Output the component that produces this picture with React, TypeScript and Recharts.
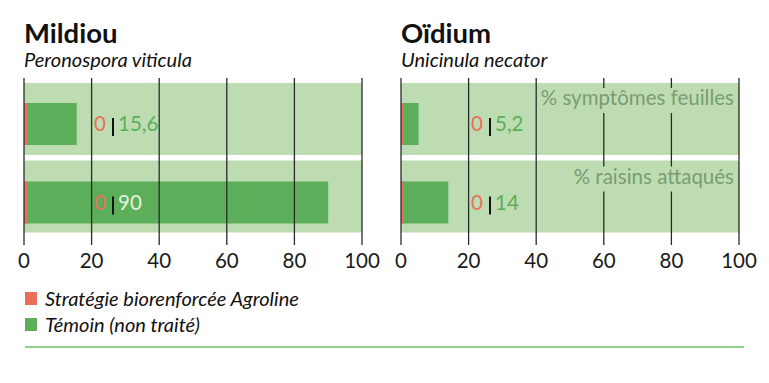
import { BarChart, Bar, XAxis, YAxis, ReferenceLine, LabelList } from 'recharts'

const categories = ['% symptômes feuilles', '% raisins attaqués']
const mildiouAgroline = [0, 0]
const mildiouTemoin = [15.6, 90]
const oidiumAgroline = [0, 0]
const oidiumTemoin = [5.2, 14]
const scaleMax = [100, 100]
const ticks = [0, 20, 40, 60, 80, 100]

const RED = '#e8705b'
const GREEN = '#5cae5a'
const PALE = '#bedcb2'
const LIGHT_TEXT = '#e4f2de'
const CAT_TEXT = '#799d74'
const FONT = 'Lato, "Open Sans", sans-serif'

const W = 373
const H = 205
const M = { top: 8, right: 19, bottom: 0, left: 16 }
const PLOT_W = W - M.left - M.right

const fmt = (v: number) => String(v).replace('.', ',')

function Panel({ title, species, agroline, temoin, showCategories, left }: any) {
  const data = categories.map((cat, i) => ({
    cat,
    agroline: agroline[i],
    temoin: temoin[i],
    max: scaleMax[i],
  }))

  // "0 | 15,6" value pair, plus the category caption on the right panel
  const renderLabels = (props: any) => {
    const vb = props.viewBox ?? props
    const { x, y, height } = vb
    const i = props.index
    const cy = y + height / 2
    const base = cy + 7
    const t = temoin[i]
    const cat = categories[i]
    const catW = cat.length * 9.6
    const right = x + PLOT_W
    return (
      <g>
        <text x={x + 70} y={base} fill={RED} fontSize={20.5} fontFamily={FONT}>{fmt(agroline[i])}</text>
        <rect x={x + 88} y={cy - 6} width={2} height={18} fill="#111" />
        <text x={x + 94} y={base} fill={t >= 30 ? LIGHT_TEXT : GREEN} fontSize={20.5} fontFamily={FONT}>{fmt(t)}</text>
        {showCategories && (
          <g>
            <rect x={right - catW - 8} y={y - 15} width={catW + 5} height={25} fill={PALE} />
            <text x={right - 5} y={y + 2} textAnchor="end" fill={CAT_TEXT} fontSize={20.5} fontFamily={FONT}>{cat}</text>
          </g>
        )}
      </g>
    )
  }

  return (
    <div style={{ position: 'absolute', left, top: 0, width: W, height: 270 }}>
      <div style={{ position: 'absolute', left: 16, top: 12, fontSize: 27.5, lineHeight: '26px', fontWeight: 700, color: '#111' }}>{title}</div>
      <div style={{ position: 'absolute', left: 16, top: 41, fontSize: 20, lineHeight: '20px', fontStyle: 'italic', color: '#111', whiteSpace: 'nowrap' }}>{species}</div>
      <div style={{ position: 'absolute', left: 0, top: 62 }}>
        <BarChart layout="vertical" width={W} height={H} data={data} margin={M}>
          <XAxis
            type="number"
            domain={[0, 100]}
            ticks={ticks}
            axisLine={false}
            tickLine={false}
            height={30}
            tick={{ fontSize: 20.5, fill: '#1a1a1a', fontFamily: FONT }}
          />
          <YAxis yAxisId="bg" type="category" dataKey="cat" hide padding={{ top: 2, bottom: 10 }} />
          <YAxis yAxisId="g" type="category" dataKey="cat" hide padding={{ top: 7, bottom: 3 }} />
          <YAxis yAxisId="r" type="category" dataKey="cat" hide padding={{ top: 7, bottom: 3 }} />
          <Bar yAxisId="bg" dataKey="max" fill={PALE} barSize={72} isAnimationActive={false} />
          <Bar yAxisId="g" dataKey="temoin" fill={GREEN} barSize={42} isAnimationActive={false} />
          {ticks.map((t) => (
            <ReferenceLine key={t} yAxisId="bg" x={t} stroke="#2a2a2a" strokeWidth={1.3} />
          ))}
          <Bar yAxisId="r" dataKey="agroline" fill={RED} barSize={42} minPointSize={3} isAnimationActive={false}>
            <LabelList dataKey="agroline" content={renderLabels} />
          </Bar>
        </BarChart>
      </div>
    </div>
  )
}

export default function App() {
  return (
    <div style={{ position: 'relative', width: 753, height: 367, fontFamily: FONT, color: '#111' }}>
      <Panel title="Mildiou" species="Peronospora viticula" agroline={mildiouAgroline} temoin={mildiouTemoin} showCategories={false} left={0} />
      <Panel title="Oïdium" species="Unicinula necator" agroline={oidiumAgroline} temoin={oidiumTemoin} showCategories={true} left={377} />
      <div style={{ position: 'absolute', left: 17, top: 277, fontSize: 20, fontStyle: 'italic', lineHeight: '26px', whiteSpace: 'nowrap' }}>
        <div style={{ display: 'flex', alignItems: 'center' }}>
          <span style={{ display: 'inline-block', width: 12, height: 13, background: RED, marginRight: 8 }} />
          Stratégie biorenforcée Agroline
        </div>
        <div style={{ display: 'flex', alignItems: 'center' }}>
          <span style={{ display: 'inline-block', width: 12, height: 13, background: GREEN, marginRight: 8 }} />
          Témoin (non traité)
        </div>
      </div>
      <div style={{ position: 'absolute', left: 17, top: 338, width: 719, height: 2, background: '#8fd08a' }} />
    </div>
  )
}
